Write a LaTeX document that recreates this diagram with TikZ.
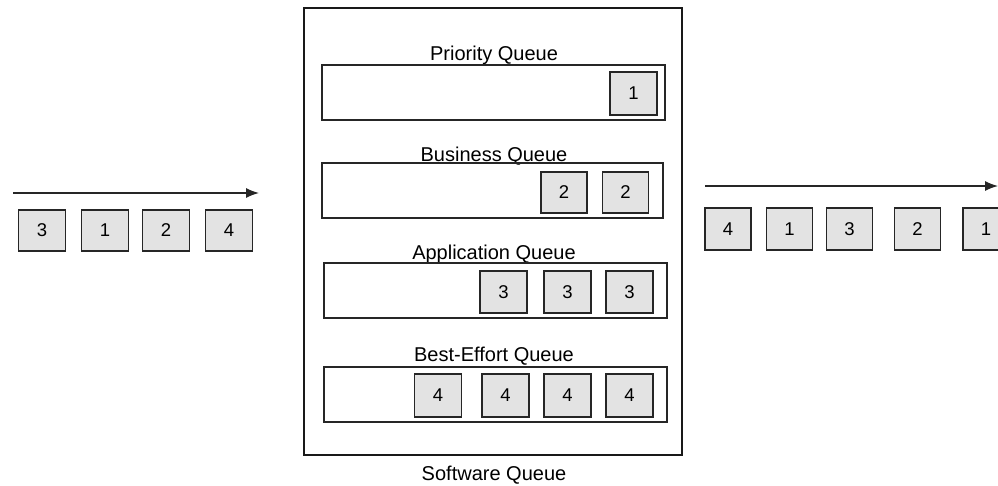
\documentclass[tikz,border=0pt]{standalone}
\usepackage{fontspec}
\setmainfont{Liberation Sans}
\usetikzlibrary{arrows.meta}
\begin{document}
\begin{tikzpicture}[x=1pt,y=-1pt,
  pkt/.style={draw=black!85,fill=black!11,line width=1.3pt,inner sep=0pt,font=\fontsize{18.5}{20}\selectfont},
  qbox/.style={draw=black!85,line width=1.3pt},
  qlabel/.style={font=\fontsize{20}{22}\selectfont,inner sep=0pt,anchor=base},
  flow/.style={draw=black!85,line width=1.3pt,-{Latex[length=13pt,width=10pt]}}]
\useasboundingbox (0,0) rectangle (998,485);
\clip (0,0) rectangle (998,485);
% software queue outer box
\draw[draw=black!90,line width=2.2pt] (304,8) rectangle (682,455);
\node[qlabel] (sw) at (494,480) {Software Queue};
% Priority queue
\node[qlabel] (lp) at (494,60) {Priority Queue};
\draw[qbox] (322,65) rectangle (665,120);
\node[pkt,minimum width=47pt,minimum height=43pt] (p1) at (633.5,93.5) {1};
% Business queue
\node[qlabel] (lb) at (494,161) {Business Queue};
\draw[qbox] (322,163) rectangle (663,218);
\node[pkt,minimum width=46pt,minimum height=41pt] (b1) at (564,192.5) {2};
\node[pkt,minimum width=46pt,minimum height=41pt] (b2) at (625.5,192.5) {2};
% Application queue
\node[qlabel] (la) at (494,259) {Application Queue};
\draw[qbox] (324,263) rectangle (667,318);
\node[pkt,minimum width=47pt,minimum height=42pt] (a1) at (503.5,292) {3};
\node[pkt,minimum width=47pt,minimum height=42pt] (a2) at (567.5,292) {3};
\node[pkt,minimum width=47pt,minimum height=42pt] (a3) at (629.5,292) {3};
% Best-effort queue
\node[qlabel] (le) at (494,361) {Best-Effort Queue};
\draw[qbox] (324,367) rectangle (667,422);
\node[pkt,minimum width=47pt,minimum height=43pt] (e1) at (438,395.5) {4};
\node[pkt,minimum width=47pt,minimum height=43pt] (e2) at (505.5,395.5) {4};
\node[pkt,minimum width=47pt,minimum height=43pt] (e3) at (567.5,395.5) {4};
\node[pkt,minimum width=47pt,minimum height=43pt] (e4) at (629.5,395.5) {4};
% incoming
\coordinate (inS) at (13,193);
\coordinate (inE) at (259,193);
\draw[flow] (inS) -- (inE);
\node[pkt,minimum width=47pt,minimum height=41pt] (i1) at (42,230.5) {3};
\node[pkt,minimum width=47pt,minimum height=41pt] (i2) at (105,230.5) {1};
\node[pkt,minimum width=47pt,minimum height=41pt] (i3) at (166,230.5) {2};
\node[pkt,minimum width=47pt,minimum height=41pt] (i4) at (229,230.5) {4};
% outgoing
\coordinate (outS) at (705,186);
\coordinate (outE) at (998,186);
\draw[flow] (outS) -- (outE);
\node[pkt,minimum width=46pt,minimum height=42pt] (o1) at (728,229) {4};
\node[pkt,minimum width=46pt,minimum height=42pt] (o2) at (789.5,229) {1};
\node[pkt,minimum width=46pt,minimum height=42pt] (o3) at (849.5,229) {3};
\node[pkt,minimum width=46pt,minimum height=42pt] (o4) at (917.5,229) {2};
\node[pkt,minimum width=46pt,minimum height=42pt] (o5) at (986,229) {1};
\end{tikzpicture}
\end{document}
